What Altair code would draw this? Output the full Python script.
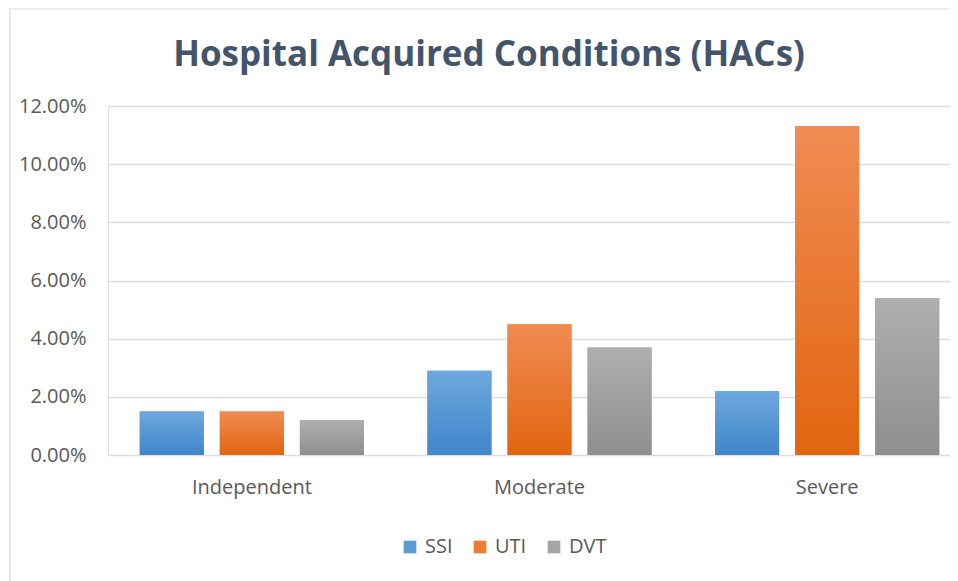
import altair as alt
import pandas as pd

categories = ["Independent", "Moderate", "Severe"]
series = ["SSI", "UTI", "DVT"]
ssi = [0.015, 0.029, 0.022]
uti = [0.015, 0.045, 0.113]
dvt = [0.012, 0.037, 0.054]
y_ticks = [0.0, 0.02, 0.04, 0.06, 0.08, 0.10, 0.12]

flat_colors = ["#5B9BD5", "#ED7D31", "#A5A5A5"]
grad_colors = {
    "SSI": ("#6FA7DF", "#3F86CA"),
    "UTI": ("#F18B53", "#E1650F"),
    "DVT": ("#AFAFAF", "#8E8E8E"),
}

rows = []
for s, vals in zip(series, [ssi, uti, dvt]):
    for c, v in zip(categories, vals):
        rows.append({"category": c, "series": s, "value": v})
df = pd.DataFrame(rows)

FONT = "Open Sans"
PLOT_W = 842
PLOT_H = 349

x_enc = alt.X(
    "category:N",
    sort=categories,
    scale=alt.Scale(domain=categories, paddingInner=0.165, paddingOuter=0.0825, range=[0, 863]),
    axis=alt.Axis(
        title=None, labelAngle=0, labelFont=FONT, labelFontSize=20,
        labelColor="#595959", labelPadding=22, ticks=False, domain=False, grid=False,
    ),
)
xo_enc = alt.XOffset(
    "series:N", sort=series,
    scale=alt.Scale(domain=series, paddingInner=0.2, paddingOuter=0.1),
)
y_enc = alt.Y(
    "value:Q",
    scale=alt.Scale(domain=[0, 0.12], nice=False),
    axis=alt.Axis(
        title=None, format=".2%", values=y_ticks, labelFont=FONT, labelFontSize=20,
        labelColor="#595959", labelPadding=22, ticks=False, domain=False,
        grid=True, gridColor="#dedede", gridWidth=1.5,
    ),
)

frame = alt.Chart(pd.DataFrame({"a": [0]})).mark_rect(
    fillOpacity=0, stroke="#d9d9d9", strokeWidth=1.2
).encode(
    x=alt.value(-98), x2=alt.value(900), y=alt.value(-97), y2=alt.value(520)
)

base = alt.Chart(df).mark_bar().encode(
    x=x_enc,
    xOffset=xo_enc,
    y=y_enc,
    color=alt.Color(
        "series:N",
        scale=alt.Scale(domain=series, range=flat_colors),
        legend=alt.Legend(
            title=None, orient="none", legendX=292, legendY=431, direction="horizontal",
            symbolType="square", symbolSize=160, symbolStrokeWidth=0,
            labelFont=FONT, labelFontSize=20, labelColor="#595959",
            labelOffset=5, columnPadding=17, padding=0,
        ),
    ),
)

layers = [frame, base]
for s in series:
    top, bottom = grad_colors[s]
    layers.append(
        alt.Chart(df).transform_filter(alt.datum.series == s).mark_bar(
            fill=alt.Gradient(
                gradient="linear",
                stops=[alt.GradientStop(color=top, offset=0), alt.GradientStop(color=bottom, offset=1)],
                x1=0, x2=0, y1=0, y2=1,
            )
        ).encode(x=x_enc, xOffset=xo_enc, y=y_enc)
    )

chart = alt.layer(*layers).properties(
    width=PLOT_W,
    height=PLOT_H,
    autosize=alt.AutoSizeParams(type="none"),
    padding={"left": 100, "top": 98, "right": 0, "bottom": 126},
    title=alt.Title(
        "Hospital Acquired Conditions (HACs)", font=FONT, fontSize=35, fontWeight="bold",
        color="#44546A", anchor="middle", frame="group", dx=-40, offset=-93, baseline="alphabetic",
    ),
).configure_view(stroke=None).configure(background="white")

chart.save("out.html", embed_options={"renderer": "svg", "actions": False})
